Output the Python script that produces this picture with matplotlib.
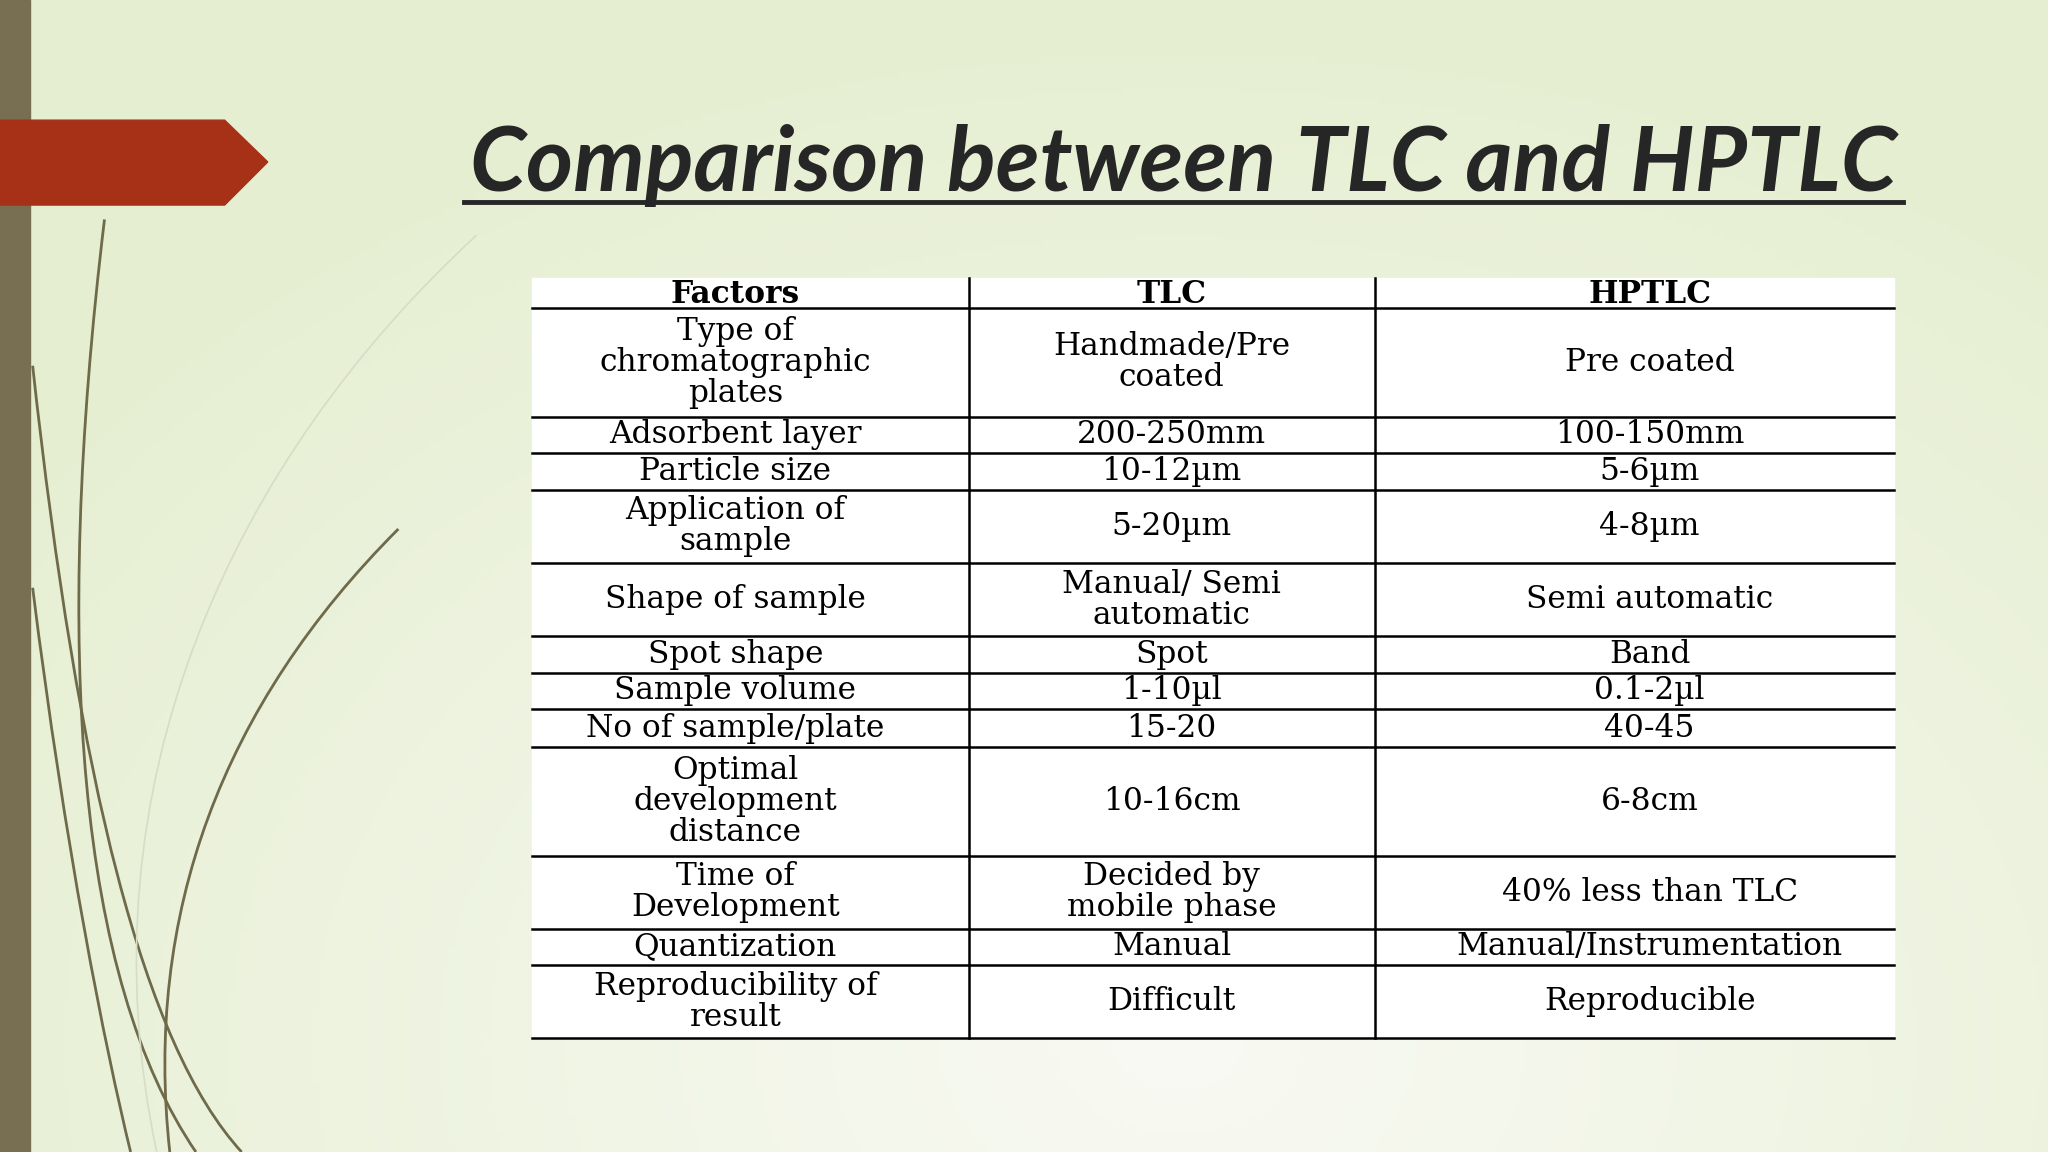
import numpy as np
import matplotlib
matplotlib.use("Agg")
import matplotlib.pyplot as plt
from matplotlib.patches import Polygon, Rectangle, PathPatch
from matplotlib.path import Path

title = "Comparison between TLC and HPTLC"
headers = ["Factors", "TLC", "HPTLC"]
factors = ["Type of\nchromatographic\nplates", "Adsorbent layer", "Particle size",
           "Application of\nsample", "Shape of sample", "Spot shape", "Sample volume",
           "No of sample/plate", "Optimal\ndevelopment\ndistance", "Time of\nDevelopment",
           "Quantization", "Reproducibility of\nresult"]
tlc = ["Handmade/Pre\ncoated", "200-250mm", "10-12µm", "5-20µm", "Manual/ Semi\nautomatic",
       "Spot", "1-10µl", "15-20", "10-16cm", "Decided by\nmobile phase", "Manual", "Difficult"]
hptlc = ["Pre coated", "100-150mm", "5-6µm", "4-8µm", "Semi automatic", "Band", "0.1-2µl",
         "40-45", "6-8cm", "40% less than TLC", "Manual/Instrumentation", "Reproducible"]

W, H = 1568, 882
fig = plt.figure(figsize=(20.48, 11.52), dpi=100)
ax = fig.add_axes([0, 0, 1, 1])
ax.set_xlim(0, W); ax.set_ylim(H, 0); ax.axis("off")

yy, xx = np.mgrid[0:H:4, 0:W:4]
d = np.sqrt(((xx - 900) / 1100) ** 2 + ((yy - 800) / 800) ** 2)
d = np.clip(d, 0, 1)[..., None]
c1 = np.array([0.975, 0.98, 0.955]); c2 = np.array([0.90, 0.935, 0.82])
img = c1 * (1 - d) + c2 * d
ax.imshow(img, extent=(0, W, H, 0), aspect="auto", zorder=0)

ax.add_patch(Rectangle((0, 0), 23, H, color="#786e52", zorder=1))
ax.add_patch(Polygon([(0, 92), (172, 92), (205, 124), (172, 157), (0, 157)], color="#a63117", zorder=2))

curves = [
    [(80, 168), (40, 500), (60, 750), (150, 882)],
    [(25, 280), (60, 600), (110, 800), (185, 882)],
    [(365, 180), (180, 350), (60, 600), (120, 882)],
    [(305, 405), (170, 540), (110, 700), (130, 882)],
    [(25, 450), (50, 650), (80, 800), (100, 882)],
]
for i, pts in enumerate(curves):
    p = Path(pts, [Path.MOVETO, Path.CURVE4, Path.CURVE4, Path.CURVE4])
    ax.add_patch(PathPatch(p, fill=False, lw=2.0 if i != 2 else 1.2,
                           ec="#6e6a4a" if i != 2 else "#d8dcc4", zorder=1))

ax.text(906, 127, title, fontsize=65, fontweight="bold", fontstyle="italic",
        family="Lato", color="#262626", ha="center", va="center", zorder=3)
ax.plot([355, 1457], [155, 155], color="#262626", lw=3.5, zorder=3)

xs = [407, 742, 1053, 1450]
centers = [563, 897, 1263]
ys = [213, 236, 319, 347, 375, 431, 487, 515, 543, 572, 655, 711, 739, 795]
ax.add_patch(Rectangle((xs[0], ys[0]), xs[-1] - xs[0], ys[-1] - ys[0], color="white", zorder=2))
for y in ys[1:]:
    ax.plot([xs[0], xs[-1]], [y, y], color="black", lw=1.8, zorder=3)
for x in xs[1:3]:
    ax.plot([x, x], [ys[0], ys[-1]], color="black", lw=1.8, zorder=3)
fs = dict(family="DejaVu Serif", fontsize=22.5, ha="center", va="center", zorder=4,
          linespacing=1.0, color="black")
for j, h in enumerate(headers):
    ax.text(centers[j], (ys[0] + ys[1]) / 2 + 1, h, fontweight="bold", **fs)
for i in range(len(factors)):
    yc = (ys[i + 1] + ys[i + 2]) / 2
    for j, col in enumerate([factors, tlc, hptlc]):
        ax.text(centers[j], yc, col[i], **fs)

fig.savefig("out.png", dpi=100)
